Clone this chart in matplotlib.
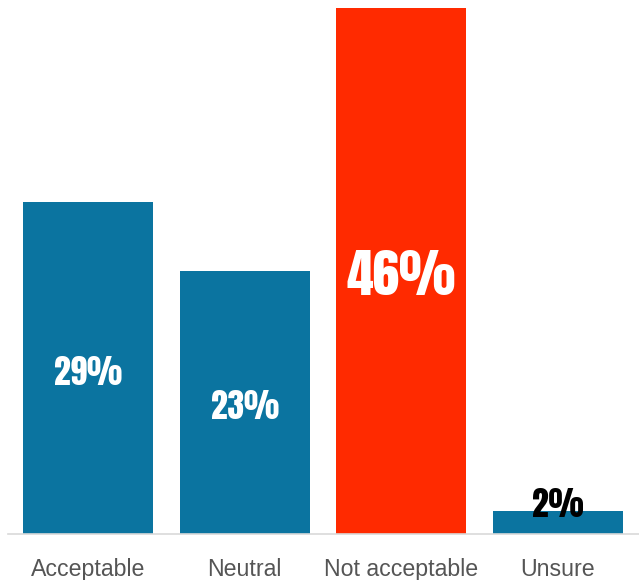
import matplotlib.pyplot as plt

categories = ['Acceptable', 'Neutral', 'Not acceptable', 'Unsure']
values = [29, 23, 46, 2]
colors = ['#0b74a0', '#0b74a0', '#ff2a00', '#0b74a0']
label_colors = ['white', 'white', 'white', 'black']
label_sizes = [24, 24, 38.5, 24]

fig = plt.figure(figsize=(6.39, 5.8), dpi=100)
ax = fig.add_axes([8 / 639, 46 / 580, 631 / 639, 534 / 580])

x = range(len(categories))
bars = ax.bar(x, values, width=0.83, color=colors)

ax.set_xlim(-0.51, 3.517)
ax.set_ylim(0, 46.7)

for i, (b, v) in enumerate(zip(bars, values)):
    # small bars get their label just above the top
    y = v / 2 - 0.35 if v > 10 else v + 0.6
    ax.text(b.get_x() + b.get_width() / 2, y, f'{v}%', ha='center', va='center',
            color=label_colors[i], fontsize=label_sizes[i],
            family=['Anton', 'DejaVu Sans'])

for s in ['top', 'right', 'left']:
    ax.spines[s].set_visible(False)
ax.spines['bottom'].set_color('#d9d9d9')
ax.spines['bottom'].set_linewidth(1.2)
ax.set_yticks([])
ax.set_xticks(list(x))
ax.set_xticklabels(categories, fontsize=16.7, color='#555555', family='Liberation Sans')
ax.tick_params(axis='x', length=0, pad=17)

fig.savefig('out.png', dpi=100)
